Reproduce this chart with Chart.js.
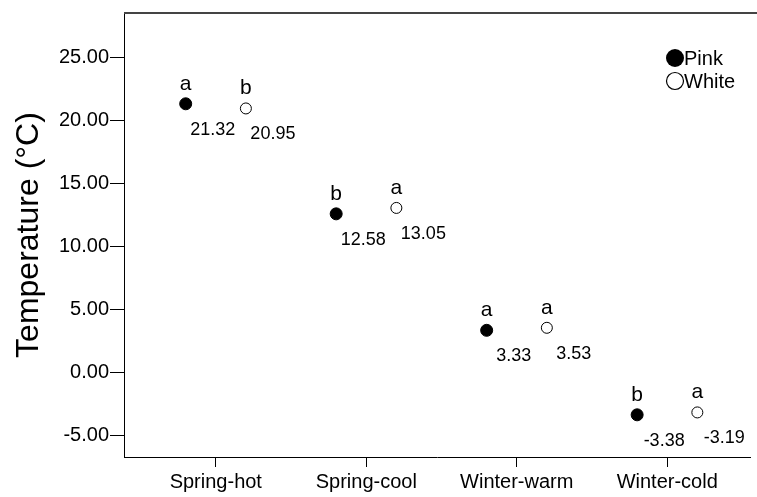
<!DOCTYPE html>
<html>
<head>
<meta charset="utf-8">
<script src="https://cdn.jsdelivr.net/npm/chart.js@4.4.1/dist/chart.umd.min.js"></script>
<style>
    html, body { margin: 0; padding: 0; background: #fff; }
    #wrap { width: 757px; height: 497px; }
</style>
</head>
<body>
<div id="wrap"><canvas id="tempchart"></canvas></div>
<script>
    const categories = ["Spring-hot", "Spring-cool", "Winter-warm", "Winter-cold"];
    const pinkValues = [21.32, 12.58, 3.33, -3.38];
    const whiteValues = [20.95, 13.05, 3.53, -3.19];
    const pinkLetters = ["a", "b", "a", "b"];
    const whiteLetters = ["b", "a", "a", "a"];
    const yTicks = [-5, 0, 5, 10, 15, 20, 25];
    const seriesNames = ["Pink", "White"];

    const FONT = "'Liberation Sans', Arial, sans-serif";

    function points(values, shift) {
        return values.map(function (v, i) { return { x: i + 1 + shift, y: v }; });
    }

    // value labels under each point, significance letters above
    const annotate = {
        id: "annotate",
        afterDatasetsDraw(chart) {
            const ctx = chart.ctx;
            const letters = [pinkLetters, whiteLetters];
            ctx.save();
            ctx.fillStyle = "#000";
            ctx.textAlign = "center";
            ctx.textBaseline = "middle";
            chart.data.datasets.forEach(function (ds, d) {
                chart.getDatasetMeta(d).data.forEach(function (pt, i) {
                    ctx.font = "18px " + FONT;
                    ctx.fillText(ds.data[i].y.toFixed(2), pt.x + 27, pt.y + 26);
                    ctx.font = "21px " + FONT;
                    ctx.fillText(letters[d][i], pt.x, pt.y - 20);
                });
            });

            // top frame line
            const a = chart.chartArea;
            ctx.strokeStyle = "#444";
            ctx.lineWidth = 2;
            ctx.beginPath();
            ctx.moveTo(a.left, a.top);
            ctx.lineTo(chart.width, a.top);
            ctx.stroke();

            // legend
            ctx.textAlign = "left";
            ctx.font = "20px " + FONT;
            ctx.lineWidth = 1.2;
            ctx.fillStyle = "#000";
            ctx.beginPath();
            ctx.arc(675, 58, 9, 0, Math.PI * 2);
            ctx.fill();
            ctx.fillText(seriesNames[0], 684, 59);
            ctx.beginPath();
            ctx.arc(675, 81, 8.5, 0, Math.PI * 2);
            ctx.strokeStyle = "#000";
            ctx.stroke();
            ctx.fillText(seriesNames[1], 684, 82);
            ctx.restore();
        }
    };

    new Chart(document.getElementById("tempchart"), {
        type: "scatter",
        data: {
            datasets: [
                {
                    label: seriesNames[0],
                    data: points(pinkValues, -0.2),
                    pointRadius: 6,
                    pointBackgroundColor: "#000",
                    pointBorderColor: "#000",
                    pointBorderWidth: 1,
                },
                {
                    label: seriesNames[1],
                    data: points(whiteValues, 0.2),
                    pointRadius: 5.5,
                    pointBackgroundColor: "#fff",
                    pointBorderColor: "#000",
                    pointBorderWidth: 1,
                },
            ],
        },
        options: {
            responsive: true,
            maintainAspectRatio: false,
            animation: false,
            layout: { padding: { top: 8, right: 0, left: 0, bottom: 0 } },
            plugins: {
                legend: { display: false },
                tooltip: { enabled: false },
            },
            scales: {
                x: {
                    type: "linear",
                    min: 0.39,
                    max: 4.55,
                    afterBuildTicks: function (scale) {
                        scale.ticks = categories.map(function (c, i) { return { value: i + 1 }; });
                    },
                    afterFit: function (scale) { scale.height = 40; },
                    ticks: {
                        callback: function (v) { return categories[v - 1]; },
                        color: "#000",
                        font: { family: FONT, size: 20 },
                        padding: 3,
                        maxRotation: 0,
                    },
                    grid: { drawOnChartArea: false, drawTicks: true, tickLength: 10, color: "#000" },
                    border: { display: true, color: "#000", width: 1 },
                },
                y: {
                    min: -6.73,
                    max: 28.53,
                    afterBuildTicks: function (scale) {
                        scale.ticks = yTicks.map(function (v) { return { value: v }; });
                    },
                    afterFit: function (scale) { scale.width = 124; },
                    ticks: {
                        callback: function (v) { return v.toFixed(2); },
                        color: "#000",
                        font: { family: FONT, size: 20 },
                        padding: 1,
                    },
                    title: {
                        display: true,
                        text: "Temperature (°C)",
                        color: "#000",
                        font: { family: FONT, size: 32 },
                        padding: { top: 10, bottom: 0 },
                    },
                    grid: { drawOnChartArea: false, drawTicks: true, tickLength: 14, color: "#000" },
                    border: { display: true, color: "#000", width: 1 },
                },
            },
        },
        plugins: [annotate],
    });
</script>
</body>
</html>
